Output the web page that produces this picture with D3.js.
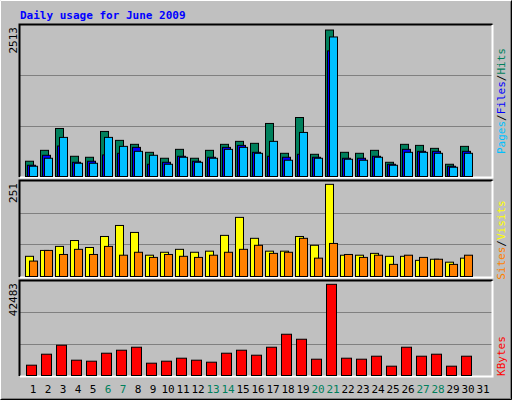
<!DOCTYPE html>
<html lang="en">
<head>
<meta charset="UTF-8">
<title>Daily usage for June 2009</title>
<script src="https://cdn.jsdelivr.net/npm/d3@7"></script>
<style>body{margin:0;background:#fff}</style>
</head>
<body>
<div id="container"></div>
<script>
const days = d3.range(1, 32);
const weekends = [6, 7, 13, 14, 20, 21, 27, 28];
const hits = [262,449,824,347,330,773,620,552,415,313,466,313,449,552,603,569,910,398,1012,381,2513,415,398,449,244,552,534,483,210,517,0];
const files = [193,364,523,244,262,370,398,500,210,244,347,262,330,500,534,415,347,330,381,330,2155,313,313,347,210,466,432,432,176,432,0];
const pages = [176,313,671,227,227,671,517,432,364,210,330,244,313,466,500,398,603,279,756,313,2394,296,279,330,193,415,415,398,159,398,0];
const visits = [55,71,82,98,79,109,139,120,58,66,74,66,69,112,161,104,69,69,109,85,251,58,58,63,55,55,44,47,39,50,0];
const sites = [42,71,60,74,60,82,58,66,52,60,55,52,58,66,74,85,63,66,104,50,90,60,52,58,33,58,52,47,33,58,0];
const kbytes = [4805,9920,14105,7130,6665,10385,11780,13175,5735,6665,8060,7130,6200,10385,11780,9455,13175,19220,16895,7595,42483,8060,7595,8990,4340,13175,8990,9920,4340,8990,0];

const width = 512, height = 400;
const left = 20, right = 492;
const svg = d3.select('#container').append('svg').attr('width', width).attr('height', height)
  .style('font-family', '"DejaVu Sans Mono", monospace');

// background with raised border
svg.append('rect').attr('width', width).attr('height', height).attr('fill', '#c0c0c0');
svg.append('path').attr('d', `M0.5,${height-0.5}V0.5H${width-0.5}`).attr('stroke', '#fff').attr('fill', 'none');
svg.append('path').attr('d', `M0.5,${height-0.5}H${width-0.5}V0.5`).attr('stroke', '#000').attr('fill', 'none');
svg.append('path').attr('d', `M1.5,${height-1.5}H${width-1.5}V1.5`).attr('stroke', '#808080').attr('fill', 'none');

svg.append('text').attr('x', 20).attr('y', 19).attr('fill', '#0000ff')
  .attr('font-size', 11).attr('font-weight', 'bold').text('Daily usage for June 2009');

const x = d3.scaleLinear().domain([1, 32]).range([25, 25 + 15 * 31]);

function panel(top, bottom, max, label) {
  const y = d3.scaleLinear().domain([0, max / 0.97]).range([bottom, top]);
  svg.append('rect').attr('x', left).attr('y', top).attr('width', right - left).attr('height', bottom - top + 1)
    .attr('fill', '#c0c0c0');
  [1 / 3, 2 / 3].forEach(f => {
    const gy = Math.round(bottom - (bottom - top) * f) + 0.5;
    svg.append('line').attr('x1', left).attr('x2', right).attr('y1', gy).attr('y2', gy)
      .attr('stroke', '#808080').attr('stroke-width', 1);
  });
  svg.append('path').attr('d', `M${left-0.5},${bottom+1}V${top-0.5}H${right+0.5}`).attr('stroke', '#000').attr('stroke-width', 2).attr('fill', 'none');
  svg.append('path').attr('d', `M${left},${bottom+1.5}H${right+0.5}V${top}`).attr('stroke', '#fff').attr('stroke-width', 2).attr('fill', 'none');
  svg.append('text').attr('transform', `translate(17,${top + 2}) rotate(-90)`).attr('text-anchor', 'end')
    .attr('font-size', 11).attr('fill', '#000').text(label);
  return y;
}

function bars(y, data, off, w, color) {
  svg.append('g').selectAll('rect').data(data.map((v, i) => ({ v, d: i + 1 })).filter(o => o.v > 0)).join('rect')
    .attr('x', o => x(o.d) + off + 0.5)
    .attr('y', o => y(o.v) + 0.5)
    .attr('width', w)
    .attr('height', o => y(0) - y(o.v))
    .attr('fill', color).attr('stroke', '#000').attr('stroke-width', 1);
}

const y1 = panel(25, 176, d3.max(hits), '2513');
bars(y1, hits, 0, 8, '#00805c');
bars(y1, files, 2, 8, '#0000ff');
bars(y1, pages, 4, 8, '#00c0ff');

const y2 = panel(181, 276, d3.max(visits), '251');
bars(y2, visits, 0, 8, '#ffff00');
bars(y2, sites, 4, 8, '#ff8000');

const y3 = panel(281, 375, d3.max(kbytes), '42483');
bars(y3, kbytes, 1, 10, '#ff0000');

// day labels
svg.append('g').selectAll('text').data(days).join('text')
  .attr('x', d => x(d) + 8).attr('y', 393).attr('text-anchor', 'middle').attr('font-size', 11)
  .attr('fill', d => weekends.includes(d) ? '#00805c' : '#000').text(d => d);

// right legends, reading bottom to top
function legend(cy, parts) {
  const t = svg.append('text').attr('transform', `translate(505,${cy}) rotate(-90)`)
    .attr('text-anchor', 'middle').attr('font-size', 11);
  parts.forEach(([s, c]) => t.append('tspan').attr('fill', c).text(s));
}
legend(101, [['Pages', '#00c0ff'], ['/', '#000'], ['Files', '#0000ff'], ['/', '#000'], ['Hits', '#00805c']]);
legend(240, [['Sites', '#ff8000'], ['/', '#000'], ['Visits', '#ffff00']]);
legend(356, [['KBytes', '#ff0000']]);
</script>
</body>
</html>
